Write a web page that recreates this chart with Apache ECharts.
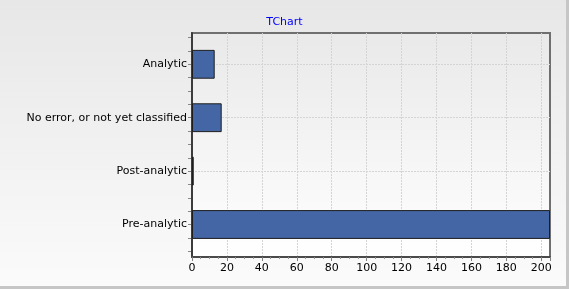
<!DOCTYPE html>
<html><head><meta charset="utf-8">
<script src="https://cdn.jsdelivr.net/npm/echarts@6/dist/echarts.min.js"></script>
<style>html,body{margin:0;padding:0;background:#fff;} #c{width:569px;height:289px;}</style>
</head><body><div id="c"></div>
<script>
const categories = ['Analytic', 'No error, or not yet classified', 'Post-analytic', 'Pre-analytic'];
const values = [13, 17, 1, 205];
const xMin = 0;
const xMax = 205;
const xInterval = 20;
const titleText = 'TChart';

const FONT = 'DejaVu Sans';
const chart = echarts.init(document.getElementById('c'), null, {renderer: 'canvas'});
const plotBg = new echarts.graphic.LinearGradient(0, 0, 0, 1, [
  {offset: 0, color: '#e9e9e9'}, {offset: 1, color: '#ffffff'}
]);
chart.setOption({
  animation: false,
  backgroundColor: new echarts.graphic.LinearGradient(0, 0, 0, 1, [
    {offset: 0, color: '#e7e7e7'}, {offset: 1, color: '#fbfbfb'}
  ]),
  graphic: [
    {type: 'rect', right: 0, top: 0, shape: {width: 3, height: 289}, style: {fill: '#c6c6c6'}, silent: true},
    {type: 'rect', left: 0, bottom: 0, shape: {width: 569, height: 3}, style: {fill: '#c6c6c6'}, silent: true}
  ],
  title: {
    text: titleText, left: 'center', top: 12,
    textStyle: {color: '#0000ff', fontSize: 11, fontWeight: 'normal', fontFamily: FONT}
  },
  grid: [
    {left: 192, top: 33, width: 358, height: 224, show: true, backgroundColor: plotBg,
     borderColor: '#6f6f6f', borderWidth: 2, containLabel: false},
    {left: 192, top: 37.6, width: 358, height: 213.6, containLabel: false}
  ],
  xAxis: [
    {gridIndex: 0, type: 'value', min: xMin, max: xMax, interval: xInterval,
     axisLine: {show: true, onZero: false, lineStyle: {color: '#4a4a4a', width: 2}},
     axisTick: {show: true, length: 4, lineStyle: {color: '#808080'}},
     minorTick: {show: true, splitNumber: 4, length: 2, lineStyle: {color: '#909090'}},
     axisLabel: {color: '#000', fontSize: 11, fontFamily: FONT, margin: 6, showMaxLabel: false},
     splitLine: {show: true, showMinLine: false, showMaxLine: false,
                 lineStyle: {color: '#d4d4d4', type: [2, 1]}}},
    {gridIndex: 1, type: 'value', min: xMin, max: xMax, show: false}
  ],
  yAxis: [
    {gridIndex: 0, type: 'value', min: 0, max: 1,
     axisLine: {show: true, onZero: false, lineStyle: {color: '#3c3c3c', width: 2}},
     axisTick: {show: false}, axisLabel: {show: false}, splitLine: {show: false}},
    {gridIndex: 1, type: 'category', inverse: true, data: categories,
     axisLine: {show: false}, axisTick: {show: false},
     axisLabel: {color: '#000', fontSize: 11, fontFamily: FONT, margin: 5},
     splitLine: {show: true, alignWithLabel: true, lineStyle: {color: '#d4d4d4', type: [2, 1]}}},
    {gridIndex: 1, type: 'value', min: 0, max: 4, interval: 0.25, position: 'left', offset: 1,
     axisLine: {show: false}, axisLabel: {show: false}, splitLine: {show: false},
     axisTick: {show: true, length: 3, lineStyle: {color: '#888888'}}}
  ],
  series: [{
    type: 'bar', xAxisIndex: 1, yAxisIndex: 1, data: values, barWidth: '54%',
    itemStyle: {color: '#4466a4', borderColor: '#1e1e1e', borderWidth: 1}
  }]
});
</script></body></html>
